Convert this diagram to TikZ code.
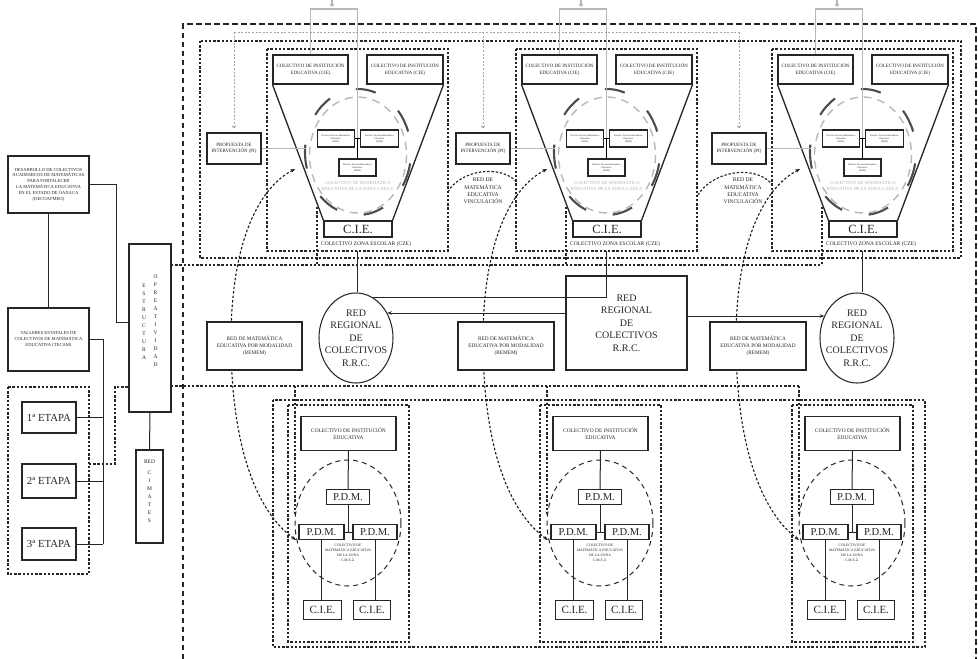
\documentclass[tikz,border=0pt]{standalone}
\usepackage{fontspec}
\setmainfont{Liberation Serif}
\usetikzlibrary{arrows.meta,shapes.geometric,calc}

\tikzset{
  bx/.style={draw=black!85, line width=1.05pt, fill=white, inner sep=0pt, align=center, text=black!85},
  wire/.style={draw=black!85, line width=1pt},
  dotl/.style={draw=black!85, line width=1.15pt, dash pattern=on 2.4pt off 1.8pt},
  bigdash/.style={draw=black!85, line width=1.3pt, dash pattern=on 5.5pt off 3.5pt},
  gdot/.style={draw=black!35, line width=1pt, dash pattern=on 2pt off 1.6pt},
  feed/.style={draw=black!28, line width=1.1pt},
  darkarc/.style={draw=black!70, line width=2.1pt},
  lightring/.style={draw=black!28, line width=1.4pt, dash pattern=on 8pt off 6pt},
  ring/.style={draw=black!85, line width=1pt, dash pattern=on 5pt off 4pt},
  curv/.style={draw=black!90, line width=1.1pt, dash pattern=on 2.5pt off 2pt,
    {Stealth[length=4.5pt,width=3.5pt]}-{Stealth[length=4.5pt,width=3.5pt]}},
  fDeco/.style={font=\fontsize{4.6}{5.8}\selectfont},
  fCie/.style={font=\fontsize{4.9}{7}\selectfont},
  fProp/.style={font=\fontsize{4.9}{6.7}\selectfont},
  fCze/.style={font=\fontsize{5.5}{6}\selectfont},
  fGray/.style={font=\fontsize{4.6}{6}\selectfont, text=black!30, align=center},
  fPdm/.style={font=\fontsize{2.4}{3}\selectfont},
  fRemem/.style={font=\fontsize{5.3}{7}\selectfont},
  fVinc/.style={font=\fontsize{5.6}{7.2}\selectfont, align=center, text=black!85},
  fBig/.style={font=\fontsize{10}{12.5}\selectfont, align=center, text=black!85},
  fEtapa/.style={font=\fontsize{10.8}{12}\selectfont},
  fCieL/.style={font=\fontsize{12.5}{14}\selectfont},
  fCieM/.style={font=\fontsize{11}{12}\selectfont},
  fPdmB/.style={font=\fontsize{10.6}{12}\selectfont},
  fTiny/.style={font=\fontsize{3.7}{5}\selectfont, align=center, text=black!85},
  fLet/.style={font=\fontsize{5.5}{8}\selectfont, align=center, text=black!85},
  fBcie/.style={font=\fontsize{5.4}{7.3}\selectfont},
}

\begin{document}
\begin{tikzpicture}[x=1pt,y=-1pt]
\useasboundingbox[fill=white] (0,0) rectangle (978,659);

% ---------- left column ----------
\node[bx, fDeco, minimum width=81pt, minimum height=57pt] (deco) at (48.5,184.5)
  {DESARROLLO DE COLECTIVOS\\ACADÉMICOS DE MATEMÁTICAS\\PARA FORTALECER\\LA MATEMÁTICA EDUCATIVA\\EN EL ESTADO DE OAXACA\\(DECOAFMEO)};
\node[bx, fDeco, minimum width=81pt, minimum height=63pt] (tecam) at (48.5,339.5)
  {TALLERES ESTATALES DE\\COLECTIVOS DE MATEMÁTICA\\EDUCATIVA (TECAM)};
\draw[dotl] (8,387) rectangle (89,574);
\node[bx, fEtapa, minimum width=54pt, minimum height=31pt] (e1) at (49,417.5) {1ª ETAPA};
\node[bx, fEtapa, minimum width=54pt, minimum height=34pt] (e2) at (49,481) {2ª ETAPA};
\node[bx, fEtapa, minimum width=54pt, minimum height=32pt] (e3) at (49,544) {3ª ETAPA};

\node[bx, minimum width=42pt, minimum height=168pt] (estr) at (150,328) {};
\node[fLet] at (144,322) {E\\S\\T\\R\\U\\C\\T\\U\\R\\A};
\node[fLet] at (155.5,321) {O\\P\\R\\E\\A\\T\\I\\V\\I\\D\\A\\D};
\node[bx, minimum width=27pt, minimum height=93pt] (cima) at (149.5,496.5) {};
\node[fLet, anchor=north, font=\fontsize{5.5}{8.1}\selectfont] at (149.5,456) {RED\\[3pt]C\\I\\M\\A\\T\\E\\S};

\coordinate (dk1) at (116,185);
\coordinate (dk2) at (116,322);
\draw[wire] (deco.east) -- (deco.east -| dk1) -- (dk2) -- (dk2 -| estr.west);
\draw[wire] (deco.south) -- (tecam.north);
\draw[wire] (estr.south) -- (cima.north);
\coordinate (tk) at (103,544);
\draw[wire] (tecam.east) -- (tecam.east -| tk) -- (tk);
\foreach \e in {e1,e2,e3} \draw[wire] (\e.east) -- (\e.east -| tk);
\coordinate (ed1) at (89,464);
\coordinate (ed2) at (115,464);
\coordinate (ed3) at (115,387);
\draw[dotl] (ed1) -- (ed2) -- (ed3) -- (ed3 -| estr.west);

% ---------- outer frames ----------
\draw[bigdash] (183,659) -- (183,24) -- (976,24) -- (976,659);
\draw[dotl] (200,41) rectangle (961,258);
\draw[dotl] (273,400) rectangle (925,647);

% middle dotted links
\coordinate (mt0) at (171,265);
\coordinate (mt3) at (822,265);
\draw[dotl] (mt0) -- (mt3);
\coordinate (mb0) at (171,386);
\coordinate (mbe) at (799,386);
\draw[dotl] (mb0) -- (mbe);

% gray dotted feed to the proposals
\coordinate (gt) at (234,32);

% ---------- three school-zone modules ----------
\foreach \m/\xo/\bx/\ct/\cb in {1/267/288/295/296, 2/516/540/547/548, 3/772/792/800/799} {
  % upper module
  \draw[dotl] (\xo,49) rectangle (\xo+181,251);
  \draw[lightring] (\xo+91,155) ellipse [x radius=48.5, y radius=58];
  \foreach \k in {0,...,6} {
    \pgfmathsetmacro\sa{-(19+51.43*\k)}
    \draw[darkarc] (\xo+91,152) ++ ({53*cos(\sa)},{63*sin(\sa)})
      arc[start angle=\sa, delta angle=-22, x radius=53, y radius=63];
  }
  \node[fGray] at (\xo+91,186) {COLECTIVO DE MATEMÁTICA\\EDUCATIVA DE LA ZONA C.M.E.Z.};
  \node[bx, fCie, minimum width=75pt, minimum height=29pt] (ciel\m) at (\xo+43.5,69.5)
    {COLECTIVO DE INSTITUCIÓN\\EDUCATIVA (CIE)};
  \node[bx, fCie, minimum width=76pt, minimum height=29pt] (cier\m) at (\xo+138,69.5)
    {COLECTIVO DE INSTITUCIÓN\\EDUCATIVA (CIE)};
  \node[bx, fCieL, minimum width=68pt, minimum height=16pt] (cie\m) at (\xo+91,229) {C.I.E.};
  \draw[wire, line width=1.3pt] (ciel\m.south west) -- (cie\m.north west);
  \draw[wire, line width=1.3pt] (cier\m.south east) -- (cie\m.north east);
  \node[fCze, text=black!85] at (\xo+99,244.5) {COLECTIVO ZONA ESCOLAR (CZE)};
  % feed from above
  \coordinate (j\m) at (\xo+90.5,138.5);
  \coordinate (fa\m) at (\xo+43.5,9);
  \coordinate (fb\m) at (\xo+90.5,9);
  \coordinate (fi\m) at (\xo+65,0);
  \draw[feed] (ciel\m.north) -- (fa\m) -- (fb\m) -- (j\m);
  \draw[feed, -{Straight Barb[length=2pt,width=3.5pt]}] (fi\m) -- (fi\m |- 0,7);
  % profesores
  \node[bx, fPdm, minimum width=37pt, minimum height=17pt] (pa\m) at (\xo+69,138.5)
    {Profesor Docente Matemático\\Educativo\\(PDM)};
  \node[bx, fPdm, minimum width=38pt, minimum height=17pt] (pb\m) at (\xo+112.5,138.5)
    {Profesor Docente Matemático\\Educativo\\(PDM)};
  \node[bx, fPdm, minimum width=37pt, minimum height=17pt] (pc\m) at (\xo+90.5,167.5)
    {Profesor Docente Matemático\\Educativo\\(PDM)};
  \draw[wire, line width=1.8pt, draw=black] (pa\m.east) -- (pb\m.west);
  \draw[wire, line width=1.8pt, draw=black] (j\m) -- (pc\m.north);
  % proposal
  \node[bx, fProp, minimum width=54pt, minimum height=31pt] (prop\m) at (\xo-33,148.5)
    {PROPUESTA DE\\INTERVENCIÓN (PI)};
  \coordinate (pe\m) at (\xo+39,148.5);
  \draw[feed] (prop\m.east) -- (pe\m);
  \draw[gdot, -{Straight Barb[length=2pt,width=3.5pt]}, shorten >=4pt] (prop\m.north |- gt) -- (prop\m.north);
  % drop to the regional strip
  \coordinate (dz\m) at (\xo+50,207);
  \draw[dotl] (dz\m) -- (dz\m |- mt0);
  \coordinate (mb\m) at (\xo+90,251);

  % lower module
  \draw[dotl] (\bx,405) rectangle (\bx+121,642);
  \draw[ring] (\bx+60,523) ellipse [x radius=53, y radius=63];
  \node[bx, fBcie, minimum width=95pt, minimum height=34pt] (bcie\m) at (\bx+60.5,433.5)
    {COLECTIVO DE INSTITUCIÓN\\EDUCATIVA};
  \node[bx, fPdmB, minimum width=43pt, minimum height=15pt] (bt\m) at (\bx+60,497) {P.D.M.};
  \node[bx, fPdmB, minimum width=45pt, minimum height=15pt] (bl\m) at (\bx+33.5,532) {P.D.M.};
  \node[bx, fPdmB, minimum width=44pt, minimum height=15pt] (br\m) at (\bx+87,532) {P.D.M.};
  \node[bx, fCieM, minimum width=38pt, minimum height=19pt] (bcl\m) at (\bx+34.5,610) {C.I.E.};
  \node[bx, fCieM, minimum width=37pt, minimum height=19pt] (bcr\m) at (\bx+84,610) {C.I.E.};
  \coordinate (bj\m) at (\bx+60,532);
  \draw[wire] (bcie\m.south) -- (bt\m.north);
  \draw[wire] (bt\m.south) -- (bj\m);
  \draw[wire] (bl\m.east) -- (br\m.west);
  \draw[wire] (bl\m.south) -- (bl\m.south |- bcl\m.north);
  \draw[wire] (br\m.south) -- (br\m.south |- bcr\m.north);
  \node[fTiny] at (\bx+60,553) {COLECTIVO DE\\MATEMÁTICA EDUCATIVA\\DE LA ZONA\\C.M.E.Z.};
  \coordinate (bd\m) at (\bx+7,515);
  \draw[dotl, -{Stealth[length=3.5pt,width=3pt]}] (bd\m |- mb0) -- (bd\m);

  % link between upper and lower module
  \draw[curv] (\ct,169) .. controls (\ct-40,190) and (\ct-64,250) .. (\ct-64,340)
    .. controls (\ct-64,440) and (\ct-41,510) .. (\cb,540);
}
\draw[gdot] (gt) -- (gt -| prop3.north);

% ---------- vinculación networks ----------
\node[fVinc] at (483,191) {RED DE\\MATEMÁTICA\\EDUCATIVA\\VINCULACIÓN};
\node[fVinc] at (743,191) {RED DE\\MATEMÁTICA\\EDUCATIVA\\VINCULACIÓN};
\coordinate (va1) at (448,192);
\coordinate (vb1) at (517,182);
\coordinate (va2) at (698,195);
\coordinate (vb2) at (771,183);
\draw[dotl] (va1) .. controls (460,170) and (500,164) .. (vb1);
\draw[dotl] (va2) .. controls (712,172) and (752,164) .. (vb2);

% ---------- regional strip ----------
\node[bx, fRemem, minimum width=95pt, minimum height=48pt] (rm1) at (254.5,346)
  {RED DE MATEMÁTICA\\EDUCATIVA POR MODALIDAD\\(REMEM)};
\node[bx, fRemem, minimum width=96pt, minimum height=48pt] (rm2) at (506,346)
  {RED DE MATEMÁTICA\\EDUCATIVA POR MODALIDAD\\(REMEM)};
\node[bx, fRemem, minimum width=96pt, minimum height=48pt] (rm3) at (758,346)
  {RED DE MATEMÁTICA\\EDUCATIVA POR MODALIDAD\\(REMEM)};

\node[ellipse, bx, minimum width=74pt, minimum height=90pt] (rrc1) at (356,338) {};
\node[fBig] at (rrc1) {RED\\REGIONAL\\DE\\COLECTIVOS\\R.R.C.};
\node[ellipse, bx, minimum width=74pt, minimum height=90pt] (rrc2) at (857,338) {};
\node[fBig] at (rrc2) {RED\\REGIONAL\\DE\\COLECTIVOS\\R.R.C.};
\node[bx, fBig, minimum width=121pt, minimum height=94pt] (rrcbox) at (626.5,323)
  {RED\\REGIONAL\\DE\\COLECTIVOS\\R.R.C.};

\coordinate (aL) at ([yshift=10pt]rrcbox.west);
\coordinate (aR) at ([yshift=7pt]rrcbox.east);
\draw[wire, -{Stealth[length=4.5pt,width=3.5pt]}] (aL) -- (aL -| rrc1.39);
\draw[wire, -{Stealth[length=4.5pt,width=3.5pt]}] (aR) -- (aR -| rrc2.146);

\draw[wire] (mb1) -- (mb1 |- rrc1.north);
\draw[wire] (mb2) -- (mb2 |- rrc1.67) -- (rrc1.67);
\draw[wire] (mb3) -- (mb3 |- rrc2.north);
\end{tikzpicture}
\end{document}
